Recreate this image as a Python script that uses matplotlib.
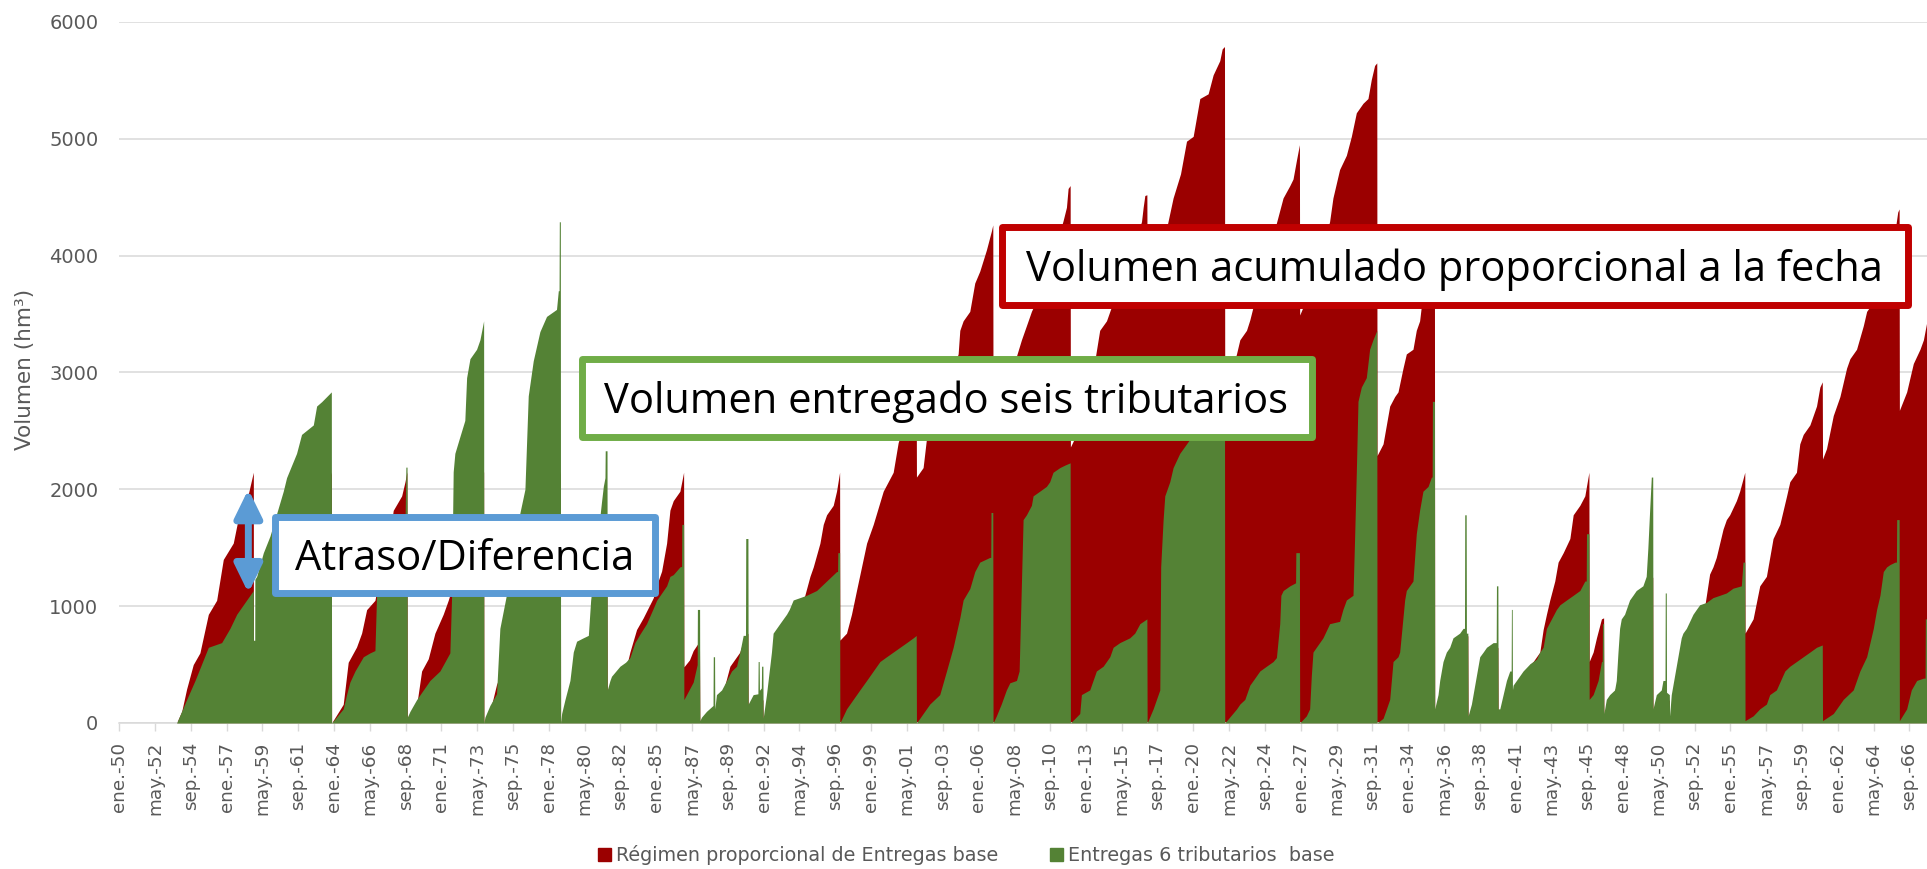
import matplotlib
matplotlib.use("Agg")
import matplotlib.pyplot as plt
from matplotlib.patches import Patch, Rectangle, FancyArrowPatch

# Meses contados desde ene.-1950 (un mes = una categoría del eje)
# Régimen proporcional (rojo): volumen acumulado por ciclo, hm3
meses_rojo = [
    44.9, 48.9, 52.7, 57.9, 63.1, 69.7, 76.2, 81.4, 89.2, 94.4, 99.7, 104.9,
    105.0, 165.9,
    166.1, 175.2, 179.1, 185.6, 189.6, 193.5, 200.0, 206.0, 211.0, 214.3, 220.9, 223.5, 225.0,
    225.3, 227.4, 232.6, 236.5, 241.7, 246.9, 253.4, 257.3, 270.0, 285.0,
    285.2, 290.0, 295.1, 297.7, 345.0,
    345.2, 381.5,
    381.7, 391.6, 396.0, 399.4, 404.6, 409.8, 417.6, 421.0, 424.2, 428.1, 430.7, 433.3, 438.5, 441.4,
    441.6, 446.0, 448.9, 453.8,
    454.1, 465.6,
    465.8, 477.6, 485.4, 488.0, 491.7,
    491.9, 503.4,
    503.6, 520.0, 530.0, 536.2, 540.2, 542.8, 548.0, 550.6, 553.2, 558.4, 561.0, 563.4,
    563.6, 568.8, 572.7, 576.6, 584.5, 589.7, 597.5, 605.3, 609.2, 615.0, 623.3,
    623.5, 628.7, 631.3, 645.0, 656.1, 657.4, 660.0, 665.2, 669.1, 673.0, 678.2, 682.1, 683.2,
    683.4, 695.0, 705.6, 709.5, 713.4, 725.0, 738.2, 740.8, 742.1, 743.7,
    743.9, 750.0, 760.0, 766.8, 772.1, 776.0, 790.0, 799.5, 800.8, 802.1, 803.7,
    803.9, 815.0, 820.0, 824.2, 830.0, 834.7, 839.9, 845.1, 851.6, 855.5, 860.7, 862.6, 864.4,
    864.6, 873.8, 876.4, 881.6, 884.2, 886.8, 905.0, 910.2, 915.5, 918.0, 920.7, 923.0,
    923.2, 935.0, 946.6, 949.2, 954.4, 959.7, 963.6, 967.5, 972.7, 976.6, 979.2, 981.8, 983.5,
    983.7, 988.4, 991.0, 993.6, 997.5, 1000.1, 1004.0, 1006.6, 1011.8, 1014.4, 1017.0, 1018.3, 1028.6,
    1028.8, 1054.7,
    1054.9, 1078.2,
    1078.4, 1089.4,
    1089.6, 1103.2, 1105.8, 1111.0, 1113.6, 1116.2, 1118.8, 1122.7, 1125.3, 1129.3, 1134.5, 1137.1, 1142.3, 1146.2, 1149.4,
    1149.6, 1152.7, 1155.3, 1159.2, 1160.9,
    1161.1, 1199.3,
    1199.5, 1212.3,
    1212.5, 1230.0, 1240.0, 1243.8, 1246.4, 1249.0, 1254.3, 1256.9, 1259.5, 1264.7, 1267.3, 1271.3,
    1271.5, 1277.8, 1283.0, 1288.2, 1293.4, 1298.7, 1304.0, 1306.5, 1311.7, 1314.3, 1317.0, 1322.2, 1324.8, 1327.4, 1330.0, 1331.9,
    1332.1, 1335.2, 1340.5, 1345.7, 1350.9, 1353.5, 1358.7, 1364.0, 1366.6, 1371.8, 1377.0, 1379.6, 1384.8, 1388.8, 1390.9, 1392.0,
    1392.2, 1397.9, 1400.5, 1403.1, 1408.3, 1411.0, 1413.8,
]
vol_rojo = [
    0, 100, 290, 500, 600, 930, 1050, 1400, 1540, 1820, 1900, 2146,
    0, 2150,
    0, 160, 520, 650, 770, 970, 1050, 1400, 1550, 1820, 1944, 2065, 2150,
    0, 80, 150, 445, 550, 769, 931, 1050, 1500, 2150,
    0, 100, 330, 400, 2150,
    0, 1100,
    250, 350, 450, 607, 800, 900, 1070, 1200, 1300, 1539, 1822, 1903, 1984, 2146,
    480, 540, 620, 700,
    0, 100,
    0, 486, 607, 700, 769,
    0, 200,
    0, 600, 950, 1093, 1255, 1336, 1539, 1700, 1782, 1863, 1984, 2146,
    709, 769, 931, 1134, 1539, 1700, 1984, 2146, 2400, 2600, 2867,
    2105, 2186, 2430, 2800, 3159, 3361, 3442, 3523, 3766, 3867, 4049, 4211, 4263,
    2460, 2900, 3280, 3401, 3523, 3800, 4300, 4414, 4575, 4600,
    2363, 2500, 2900, 3361, 3442, 3563, 3950, 4292, 4414, 4515, 4521,
    3630, 4000, 4280, 4494, 4700, 4980, 5021, 5345, 5385, 5547, 5669, 5770, 5790,
    2800, 3160, 3280, 3361, 3450, 3563, 4280, 4494, 4600, 4656, 4818, 4950,
    3492, 3800, 4292, 4494, 4737, 4859, 5021, 5223, 5304, 5345, 5507, 5628, 5650,
    2289, 2389, 2551, 2713, 2794, 2834, 3037, 3159, 3199, 3361, 3442, 3563, 3871,
    0, 750,
    0, 650,
    0, 300,
    0, 500, 526, 607, 800, 931, 1053, 1215, 1377, 1458, 1579, 1782, 1863, 1944, 2146,
    526, 607, 729, 891, 900,
    0, 1250,
    0, 200,
    0, 600, 1000, 1275, 1336, 1417, 1660, 1741, 1782, 1903, 1984, 2146,
    769, 891, 1174, 1255, 1579, 1700, 1944, 2065, 2146, 2389, 2470, 2551, 2632, 2713, 2875, 2920,
    2259, 2348, 2632, 2794, 3037, 3118, 3199, 3401, 3523, 3604, 3680, 3928, 4090, 4211, 4373, 4400,
    2676, 2834, 2956, 3077, 3199, 3280, 3442,
]

# Entregas de los 6 tributarios (verde), hm3
meses_verde = [
    44.9, 52.7, 59.3, 69.7, 80.1, 86.6, 91.9, 99.7, 104.9, 105.0, 106.0, 106.1,
    107.5, 112.7, 117.9, 128.3, 130.9, 138.7, 142.6, 151.8, 154.4, 158.3, 165.9,
    166.1, 175.2, 177.8, 180.4, 184.4, 190.9, 196.1, 200.0, 201.3, 209.1, 217.0, 223.5, 224.2, 225.1,
    225.3, 227.4, 232.6, 243.0, 250.8, 258.6, 260.0, 261.2, 262.5, 266.4, 270.3, 271.7, 274.3, 279.5, 282.1, 285.0,
    285.2, 286.0, 289.9, 295.1, 297.7, 302.9, 313.4, 317.3, 319.9, 323.8, 329.0, 334.2, 342.0, 343.4, 344.0, 344.2, 345.0,
    345.2, 346.0, 348.6, 352.5, 355.1, 357.7, 362.9, 366.9, 368.7, 377.3, 378.6, 379.9, 380.1, 381.5,
    381.7, 383.8, 385.0, 391.6, 396.0, 399.4, 403.3, 407.2, 412.4, 417.6, 420.3, 428.1, 430.7, 433.3, 438.5, 439.8, 440.0, 441.4,
    441.6, 448.9, 452.0, 452.2, 453.9,
    454.1, 455.4, 459.3, 464.4, 464.6, 465.6,
    465.8, 467.1, 471.1, 475.0, 478.9, 482.8, 485.4, 488.0, 489.8, 490.0, 491.7,
    491.9, 495.8, 499.5, 499.7, 500.5, 500.7, 502.2, 502.4, 503.4,
    503.6, 506.2, 510.1, 511.4, 516.6, 521.9, 524.0, 527.1, 532.3, 537.5, 545.4, 553.2, 561.0, 561.8, 562.0, 563.4,
    563.6, 568.8, 574.0, 579.2, 584.5, 589.7, 594.9, 600.1, 605.3, 610.6, 615.8, 621.0, 623.3,
    623.5, 628.7, 633.9, 641.7, 647.0, 652.2, 657.4, 660.0, 665.2, 669.1, 673.0, 680.8, 681.6, 681.8, 683.2,
    683.4, 686.0, 689.8, 693.8, 696.5, 701.7, 703.8, 705.6, 706.9, 709.5, 713.4, 714.7, 719.9, 725.1, 727.7, 730.3, 735.6, 739.5, 743.7,
    743.9, 751.2, 752.5, 759.0, 761.6, 764.2, 769.5, 774.7, 777.3, 782.5, 790.3, 794.2, 798.2, 803.7,
    803.9, 808.6, 813.8, 814.5, 816.4, 817.7, 821.6, 824.2, 829.4, 834.7, 837.3, 845.0, 855.0, 864.4,
    864.6, 873.8, 876.4, 880.3, 884.2, 886.8, 892.0, 897.2, 902.4, 905.0, 907.6, 908.5, 910.3, 915.5, 920.0, 920.2, 923.0,
    923.2, 928.4, 931.0, 932.3, 933.6, 936.2, 941.4, 946.6, 954.4, 957.0, 959.7, 964.9, 966.2, 967.5, 968.8, 971.4, 975.3, 976.6, 977.9, 980.5, 983.5,
    983.7, 988.4, 991.0, 993.6, 996.2, 1000.1, 1001.4, 1005.3, 1006.6, 1011.8, 1014.4, 1017.0, 1019.6, 1023.6, 1026.2, 1026.8, 1027.0, 1028.6,
    1028.8, 1031.4, 1032.7, 1035.3, 1037.9, 1040.5, 1043.1, 1048.3, 1051.0, 1052.1, 1052.3, 1053.4, 1053.6, 1054.7,
    1054.9, 1057.5, 1061.4, 1064.0, 1066.7, 1069.3, 1074.5, 1076.9, 1077.1, 1078.2,
    1078.4, 1079.7, 1084.9, 1087.5, 1088.6, 1088.8, 1089.4,
    1089.6, 1090.1, 1092.7, 1097.9, 1103.2, 1108.4, 1111.0, 1113.6, 1116.2, 1124.0, 1126.7, 1131.9, 1137.1, 1142.3, 1146.2, 1147.3, 1147.5, 1149.4,
    1149.6, 1152.7, 1156.6, 1159.2, 1159.8, 1160.0, 1160.9,
    1161.1, 1163.0, 1165.6, 1169.5, 1170.8, 1172.1, 1173.4, 1174.7, 1177.3, 1178.6, 1181.2, 1183.8, 1186.4, 1189.0, 1191.6, 1194.2, 1195.5, 1196.9, 1198.2, 1199.3,
    1199.5, 1202.1, 1206.0, 1207.3, 1208.9, 1209.1, 1209.9, 1210.1, 1212.3,
    1212.5, 1213.8, 1215.1, 1217.7, 1220.3, 1221.6, 1222.9, 1225.6, 1230.8, 1233.4, 1236.0, 1241.2, 1246.4, 1251.7, 1256.9, 1262.1, 1268.6, 1269.9, 1271.3,
    1271.5, 1277.8, 1283.0, 1288.2, 1290.8, 1296.0, 1302.6, 1306.5, 1311.7, 1317.0, 1322.2, 1327.4, 1331.9,
    1332.1, 1340.5, 1343.1, 1348.3, 1356.1, 1361.3, 1366.6, 1369.2, 1371.8, 1374.4, 1377.0, 1379.6, 1382.2, 1384.8, 1388.8, 1389.9, 1390.1, 1392.0,
    1392.2, 1397.9, 1401.5, 1405.7, 1411.0, 1412.3, 1412.5, 1413.8,
]
vol_verde = [
    0, 200, 364, 648, 688, 810, 931, 1053, 1134, 708, 708, 1230,
    1255, 1457, 1600, 1984, 2100, 2308, 2470, 2551, 2713, 2750, 2834,
    0, 121, 243, 350, 445, 567, 600, 620, 1100, 1300, 1500, 1700, 2190, 2190,
    50, 100, 200, 364, 445, 600, 1100, 2150, 2308, 2450, 2590, 2956, 3118, 3199, 3280, 3442,
    0, 50, 150, 250, 810, 1100, 1800, 2000, 2800, 3100, 3350, 3480, 3540, 3700, 3700, 4290, 4290,
    0, 81, 200, 364, 607, 700, 729, 750, 1050, 1903, 2025, 2100, 2330, 2330,
    283, 364, 400, 486, 520, 560, 688, 760, 850, 980, 1050, 1174, 1255, 1270, 1336, 1340, 1700, 1700,
    200, 350, 500, 972, 972,
    20, 50, 100, 150, 567, 567,
    120, 243, 283, 364, 445, 486, 607, 750, 750, 1579, 1579,
    162, 243, 250, 526, 526, 280, 300, 486, 486,
    40, 243, 607, 769, 850, 931, 972, 1053, 1073, 1093, 1134, 1215, 1296, 1296, 1458, 1458,
    0, 121, 202, 283, 364, 445, 526, 567, 607, 648, 688, 729, 749,
    0, 81, 162, 243, 445, 648, 900, 1053, 1150, 1296, 1377, 1417, 1417, 1802, 1802,
    0, 61, 162, 283, 344, 364, 445, 1200, 1741, 1782, 1863, 1944, 1984, 2025, 2065, 2146, 2186, 2207, 2227,
    0, 81, 243, 283, 364, 445, 486, 567, 648, 688, 729, 769, 850, 891,
    0, 121, 283, 1336, 1741, 1944, 2065, 2186, 2308, 2389, 2430, 2700, 2900, 3000,
    0, 120, 162, 202, 324, 364, 445, 486, 526, 560, 850, 1093, 1134, 1174, 1200, 1458, 1458,
    0, 61, 121, 405, 607, 648, 729, 850, 870, 972, 1053, 1093, 1600, 2146, 2753, 2875, 2956, 3077, 3199, 3280, 3361,
    0, 40, 120, 202, 526, 567, 607, 1053, 1134, 1215, 1620, 1822, 1984, 2025, 2105, 2105, 2753, 2753,
    121, 243, 364, 526, 607, 648, 729, 769, 810, 810, 1782, 1782, 769, 769,
    60, 162, 405, 567, 607, 648, 688, 688, 1174, 1174,
    121, 121, 364, 445, 445, 972, 972,
    283, 324, 364, 445, 506, 547, 607, 648, 810, 972, 1012, 1053, 1093, 1134, 1215, 1215, 1620, 1620,
    202, 243, 364, 526, 526, 850, 850,
    81, 202, 243, 283, 364, 600, 810, 891, 931, 972, 1053, 1093, 1134, 1154, 1174, 1255, 1498, 1822, 2105, 2105,
    121, 243, 283, 364, 364, 1113, 1113, 263, 243,
    61, 243, 324, 486, 648, 729, 769, 810, 931, 972, 1012, 1032, 1073, 1093, 1113, 1154, 1174, 1377, 1377,
    20, 61, 121, 162, 243, 283, 445, 486, 526, 567, 607, 648, 668,
    20, 81, 121, 202, 283, 445, 567, 688, 810, 972, 1093, 1296, 1336, 1356, 1377, 1377, 1741, 1741,
    20, 121, 283, 364, 384, 384, 891, 891,
]

# Etiquetas del eje X: una cada 28 meses
etiquetas_x = [
    "ene.-50", "may.-52", "sep.-54", "ene.-57", "may.-59", "sep.-61", "ene.-64",
    "may.-66", "sep.-68", "ene.-71", "may.-73", "sep.-75", "ene.-78", "may.-80",
    "sep.-82", "ene.-85", "may.-87", "sep.-89", "ene.-92", "may.-94", "sep.-96",
    "ene.-99", "may.-01", "sep.-03", "ene.-06", "may.-08", "sep.-10", "ene.-13",
    "may.-15", "sep.-17", "ene.-20", "may.-22", "sep.-24", "ene.-27", "may.-29",
    "sep.-31", "ene.-34", "may.-36", "sep.-38", "ene.-41", "may.-43", "sep.-45",
    "ene.-48", "may.-50", "sep.-52", "ene.-55", "may.-57", "sep.-59", "ene.-62",
    "may.-64", "sep.-66",
]
paso_etiquetas = 28
ticks_y = [0, 1000, 2000, 3000, 4000, 5000, 6000]
series = ["Régimen proporcional de Entregas base", "Entregas 6 tributarios  base"]

ROJO = "#9B0000"
VERDE = "#548235"
GRIS = "#595959"
REJILLA = "#D9D9D9"

W, H = 1927, 869
fig = plt.figure(figsize=(W / 100, H / 100), dpi=100)
# ejes colocados en pixeles de la figura
ax = fig.add_axes([119.2 / W, 1 - 723 / H, (W - 119.2) / W, (723 - 22) / H])

ax.fill_between(meses_rojo, vol_rojo, color=ROJO, lw=0, zorder=2)
ax.fill_between(meses_verde, vol_verde, color=VERDE, lw=0, zorder=3)

ax.set_xlim(0, 1413.8)
ax.set_ylim(0, 6000)
ax.set_yticks(ticks_y)
ax.set_yticklabels([str(v) for v in ticks_y])
ax.set_xticks([i * paso_etiquetas for i in range(len(etiquetas_x))])
ax.set_xticklabels(etiquetas_x, rotation=90)

ax.grid(axis="y", color=REJILLA, lw=1.1)
ax.set_axisbelow(True)
for s in ["top", "right", "left"]:
    ax.spines[s].set_visible(False)
ax.spines["bottom"].set_color(REJILLA)
ax.spines["bottom"].set_linewidth(1.1)
ax.tick_params(axis="y", length=0, pad=15, labelsize=14, labelcolor=GRIS)
ax.tick_params(axis="x", length=5.5, width=1, color=REJILLA, pad=8,
               labelsize=13.2, labelcolor=GRIS)

fig.text(25 / W, 1 - 369 / H, "Volumen (hm³)", rotation=90, ha="center",
         va="center", fontsize=15.5, color=GRIS)

# flecha doble del atraso
flecha = FancyArrowPatch((101, 1113), (101, 2000),
                         arrowstyle="<|-|>,head_length=17,head_width=8.3",
                         color="#5B9BD5", lw=5, shrinkA=0, shrinkB=0, zorder=6)
ax.add_patch(flecha)


def caja(x0, y0, x1, y1, borde, texto):
    # coordenadas en pixeles (origen arriba a la izquierda), linea centrada en el borde
    r = Rectangle((x0 / W, 1 - y1 / H), (x1 - x0) / W, (y1 - y0) / H,
                  transform=fig.transFigure, fc="white", ec=borde, lw=5,
                  joinstyle="round", zorder=5)
    fig.add_artist(r)
    fig.text((x0 + x1) / 2 / W, 1 - ((y0 + y1) / 2 + 15.5) / H, texto,
             ha="center", va="baseline", fontsize=30, family="Open Sans",
             color="black", zorder=6)


caja(274.5, 516.5, 654.5, 592.5, "#5B9BD5", "Atraso/Diferencia")
caja(581.5, 358.5, 1311.5, 436.5, "#70AD47", "Volumen entregado seis tributarios")
caja(1001.5, 226.5, 1907.5, 304.5, "#C00000", "Volumen acumulado proporcional a la fecha")

manejadores = [Patch(color=ROJO), Patch(color=VERDE)]
fig.legend(manejadores, series, loc="center", bbox_to_anchor=(966 / W, 1 - 855 / H),
           ncol=2, frameon=False, fontsize=13.8, handlelength=0.68,
           handleheight=0.68, handletextpad=0.25, columnspacing=2.7,
           labelcolor=GRIS, borderpad=0)

fig.savefig("out.png", dpi=100)
